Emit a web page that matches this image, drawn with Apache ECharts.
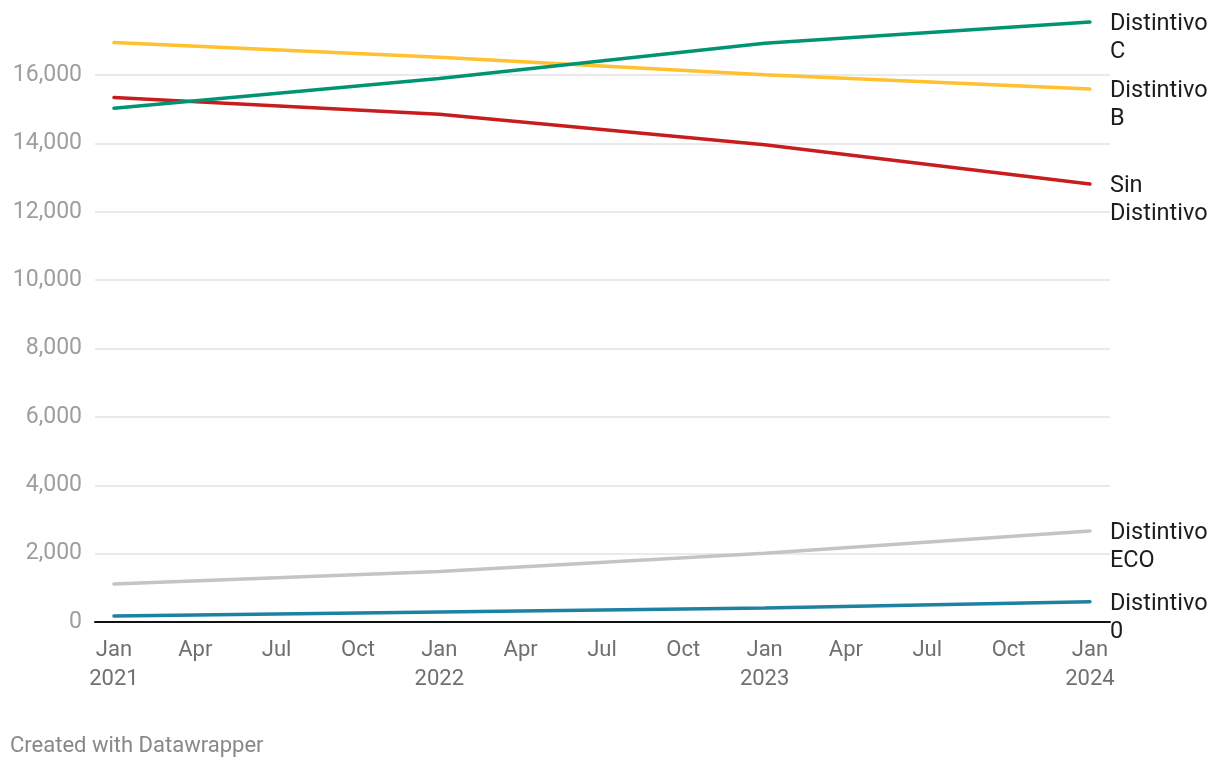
<!DOCTYPE html>
<html>
<head>
<meta charset="utf-8">
<script src="https://cdn.jsdelivr.net/npm/echarts@6/dist/echarts.min.js"></script>
<style>
html,body{margin:0;padding:0;background:#fff;}
#chart{width:1220px;height:768px;}
</style>
</head>
<body>
<div id="chart"></div>
<script>
// months since Jan 2021
const months = [0, 12, 24, 36];
const seriesNames = ['Distintivo C', 'Distintivo B', 'Sin Distintivo', 'Distintivo ECO', 'Distintivo 0'];
const labelTexts = ['Distintivo\nC', 'Distintivo\nB', 'Sin\nDistintivo', 'Distintivo\nECO', 'Distintivo\n0'];
const distintivoC = [15030, 15900, 16930, 17550];
const distintivoB = [16950, 16520, 16010, 15590];
const sinDistintivo = [15340, 14850, 13960, 12810];
const distintivoECO = [1110, 1480, 2010, 2660];
const distintivo0 = [175, 290, 410, 594];
const xTickValues = [0, 3, 6, 9, 12, 15, 18, 21, 24, 27, 30, 33, 36];
const xTickLabels = ['Jan\n2021','Apr','Jul','Oct','Jan\n2022','Apr','Jul','Oct','Jan\n2023','Apr','Jul','Oct','Jan\n2024'];
const colors = ['#009473', '#ffc12d', '#c71e1d', '#c4c4c4', '#1d81a2'];

const allValues = [distintivoC, distintivoB, sinDistintivo, distintivoECO, distintivo0];

const chart = echarts.init(document.getElementById('chart'));
chart.setOption({
  animation: false,
  textStyle: { fontFamily: 'Roboto' },
  grid: { left: 95, right: 110, top: 75, bottom: 146, containLabel: false },
  xAxis: {
    type: 'value',
    min: -0.7,
    max: 36.74,
    axisLine: { show: true, lineStyle: { color: '#111', width: 2 } },
    axisTick: { show: false },
    splitLine: { show: false },
    axisLabel: {
      customValues: xTickValues,
      color: '#707070',
      fontSize: 22,
      lineHeight: 29,
      margin: 14,
      verticalAlign: 'top',
      formatter: function (v) {
        const i = xTickValues.indexOf(v);
        return i >= 0 ? xTickLabels[i] : '';
      }
    }
  },
  yAxis: {
    type: 'value',
    min: 0,
    max: 16000,
    interval: 2000,
    axisLine: { show: false },
    axisTick: { show: false },
    splitLine: { show: true, lineStyle: { color: '#e3e3e3', width: 1.5 } },
    axisLabel: {
      color: '#9e9e9e',
      fontSize: 23,
      margin: 13,
      padding: [4, 0, 0, 0],
      formatter: function (v) { return v.toLocaleString('en-US'); }
    }
  },
  series: allValues.map(function (vals, i) {
    return {
      name: seriesNames[i],
      type: 'line',
      data: months.map(function (m, j) { return [m, vals[j]]; }),
      symbol: 'none',
      clip: false,
      z: 10 - i,
      lineStyle: { color: colors[i], width: 3.5, cap: 'round' },
      endLabel: {
        show: true,
        formatter: labelTexts[i],
        color: '#1d1d1d',
        fontSize: 23.5,
        lineHeight: 28,
        distance: 20,
        verticalAlign: 'top',
        offset: [0, -12]
      }
    };
  }),
  graphic: [{
    type: 'text',
    left: 10,
    top: 735,
    style: { text: 'Created with Datawrapper', fill: '#888', fontSize: 22, fontFamily: 'Roboto' }
  }]
});
</script>
</body>
</html>
